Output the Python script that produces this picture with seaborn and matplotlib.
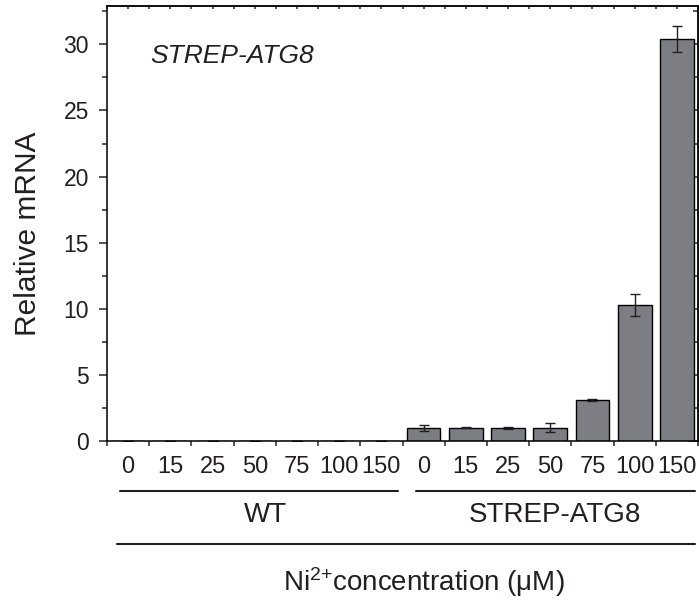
import numpy as np
import pandas as pd
import matplotlib
matplotlib.use("Agg")
import matplotlib.pyplot as plt
import seaborn as sns
from matplotlib.ticker import FixedLocator, MultipleLocator

# data
groups = ["WT"] * 7 + ["STREP-ATG8"] * 7
conc_labels = ["0", "15", "25", "50", "75", "100", "150"] * 2
wt_values = [0, 0, 0, 0, 0, 0, 0]
wt_errors = [0, 0, 0, 0, 0, 0, 0]
strep_values = [1.0, 1.0, 1.0, 1.0, 3.1, 10.3, 30.4]
strep_errors = [0.23, 0.05, 0.07, 0.35, 0.08, 0.85, 1.0]

values = wt_values + strep_values
errors = wt_errors + strep_errors

df = pd.DataFrame({
    "sample": [f"{g} {c}" for g, c in zip(groups, conc_labels)],
    "value": values,
    "err": errors,
})

sns.set_style("ticks")
plt.rcParams["font.family"] = ["Liberation Sans", "DejaVu Sans"]
plt.rcParams["mathtext.fontset"] = "custom"
plt.rcParams["mathtext.rm"] = "Liberation Sans"
plt.rcParams["mathtext.it"] = "Liberation Sans:italic"
plt.rcParams["text.color"] = "#231f20"

fig = plt.figure(figsize=(6.99, 6.08), dpi=100)
ax = fig.add_axes([107 / 699, 1 - 441 / 608, 591 / 699, 435 / 608])

sns.barplot(data=df, x="sample", y="value", order=list(df["sample"]),
            color="#7d7e83", saturation=1, width=0.8,
            edgecolor="black", linewidth=1.0, errorbar=None, ax=ax)
ax.errorbar(np.arange(len(df)), df["value"], yerr=df["err"], fmt="none",
            ecolor="#231f20", elinewidth=1.0, capsize=3.5, capthick=1.0)

ax.set_xlim(-0.5, len(df) - 0.5)
ax.set_ylim(0, 32.9)

# spines
for s in ax.spines.values():
    s.set_visible(True)
    s.set_linewidth(1.1)
    s.set_color("black")

# x ticks: labels at centers, tick marks at boundaries
ax.set_xticks(np.arange(len(df)))
ax.set_xticklabels(conc_labels, fontsize=17, color="#231f20")
ax.xaxis.set_minor_locator(FixedLocator(np.arange(-0.5, len(df), 1.0)))
ax.tick_params(axis="x", which="major", length=0, pad=11, top=False)
ax.tick_params(axis="x", which="minor", length=3.5, width=1.1, direction="out", top=False)

# y ticks left outward
ax.yaxis.set_major_locator(MultipleLocator(5))
ax.yaxis.set_minor_locator(MultipleLocator(2.5))
ax.tick_params(axis="y", which="major", length=6, width=1.1, direction="out",
               labelsize=16.5, pad=7, labelcolor="#231f20", right=False)
ax.tick_params(axis="y", which="minor", length=3.5, width=1.1, direction="out", right=False)

# right side inward ticks
ry = ax.secondary_yaxis("right")
ry.yaxis.set_major_locator(MultipleLocator(5))
ry.yaxis.set_minor_locator(MultipleLocator(2.5))
ry.tick_params(which="major", length=6.5, width=1.1, direction="in", labelright=False)
ry.tick_params(which="minor", length=3.5, width=1.1, direction="in")
ry.spines["right"].set_linewidth(1.1)

# top small inward ticks
tx = ax.secondary_xaxis("top")
tx.xaxis.set_major_locator(FixedLocator(np.arange(-0.5, len(df), 0.5)))
tx.tick_params(which="major", length=2, width=1.1, direction="in", labeltop=False)
tx.spines["top"].set_linewidth(1.1)

ax.set_xlabel("")
ax.set_ylabel("Relative mRNA", fontsize=21.5, color="#231f20")
ax.yaxis.set_label_coords(-0.11, 0.476)

ax.text(0.073, 0.885, "STREP-ATG8", transform=ax.transAxes, fontsize=19,
        style="italic", ha="left", va="center")

# group annotations below the axis
tr = ax.get_xaxis_transform()
ax.plot([-0.19, 6.40], [-0.115, -0.115], color="#231f20", lw=1.5, transform=tr, clip_on=False)
ax.plot([6.82, 13.43], [-0.115, -0.115], color="#231f20", lw=1.5, transform=tr, clip_on=False)
ax.plot([-0.26, 13.43], [-0.237, -0.237], color="#231f20", lw=1.5, transform=tr, clip_on=False)
ax.text(3.25, -0.170, "WT", transform=tr, fontsize=20, ha="center", va="center")
ax.text(10.12, -0.170, "STREP-ATG8", transform=tr, fontsize=20, ha="center", va="center")
ax.text(7.0, -0.324, "Ni$^{2{+}}$concentration (\u03bcM)", transform=tr, fontsize=20,
        ha="center", va="center")

fig.savefig("out.png", dpi=100)
